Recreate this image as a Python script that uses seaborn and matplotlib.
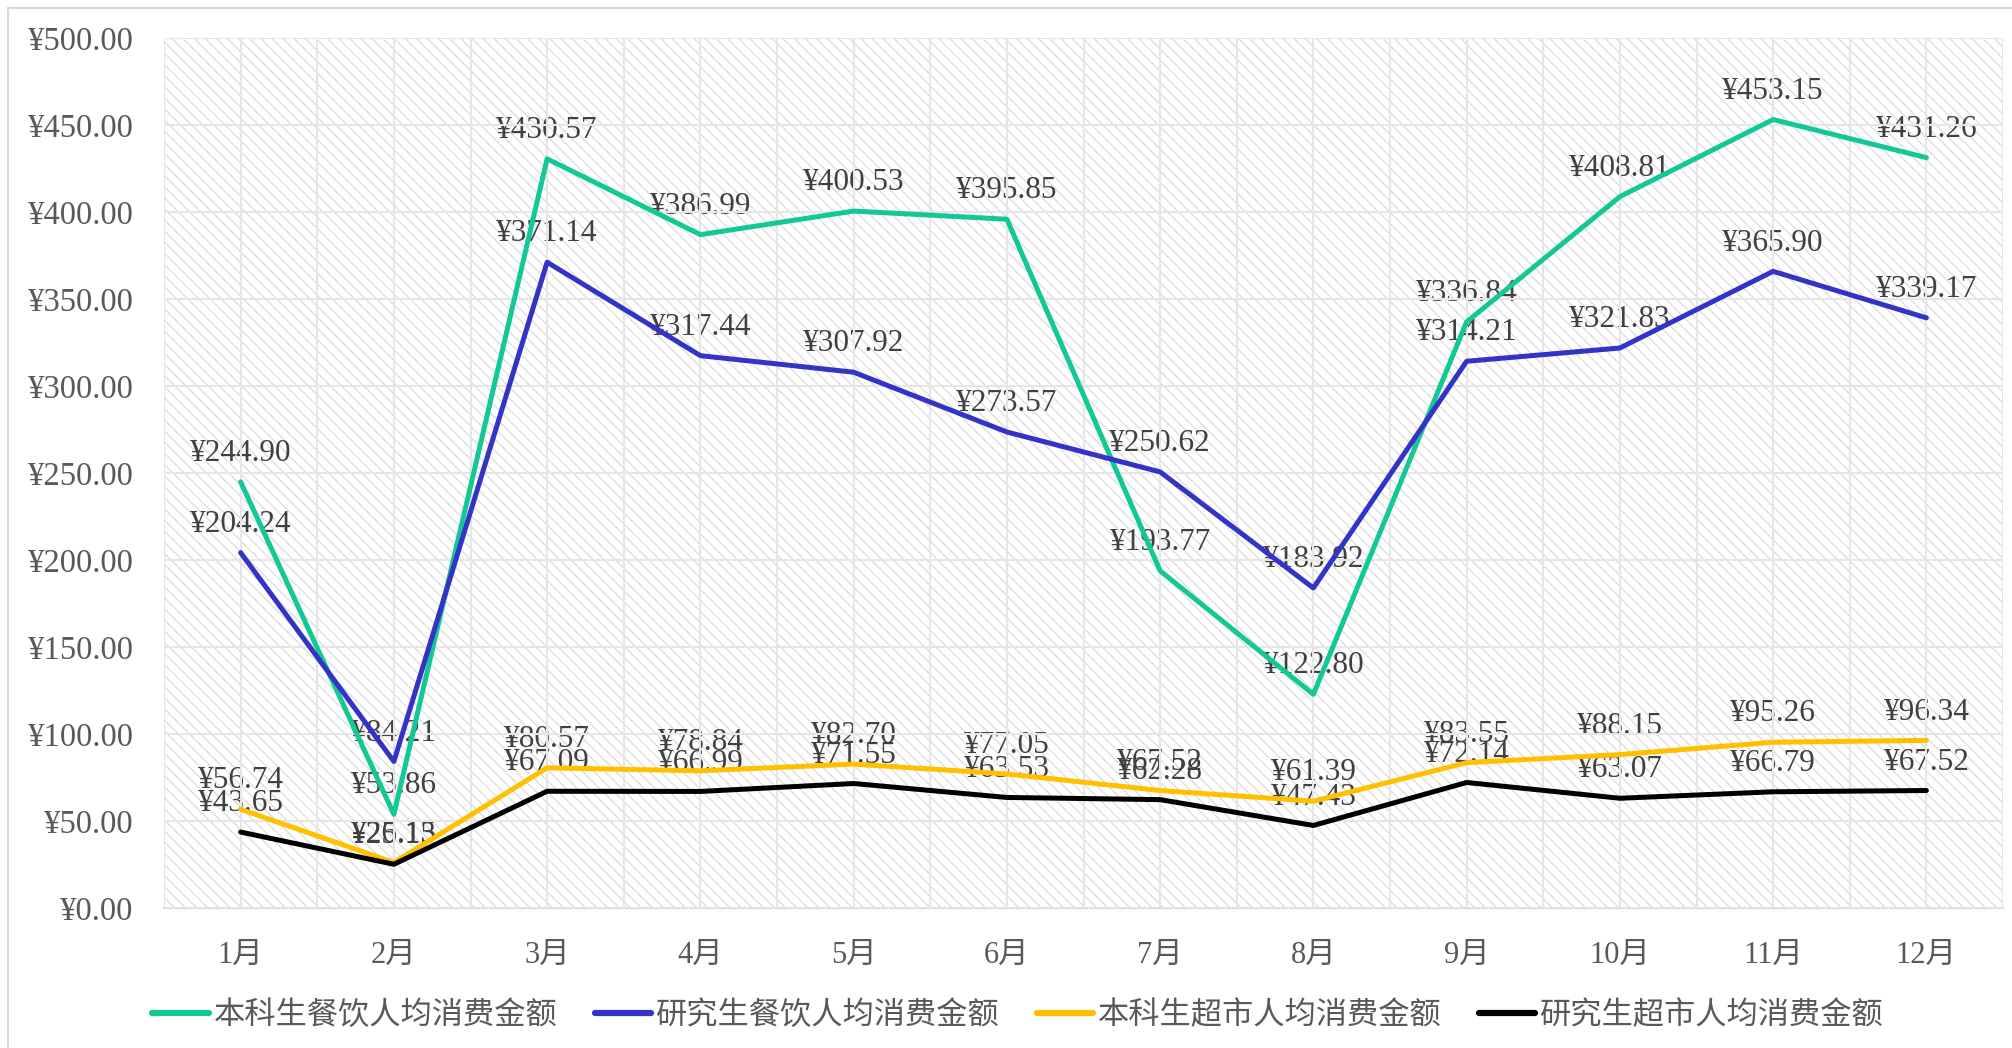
import numpy as np
import pandas as pd
import matplotlib
matplotlib.use("Agg")
import matplotlib.pyplot as plt
import seaborn as sns
from matplotlib.patches import Rectangle

# data
months = ["1月", "2月", "3月", "4月", "5月", "6月", "7月", "8月", "9月", "10月", "11月", "12月"]
ug_food = [244.90, 53.86, 430.57, 386.99, 400.53, 395.85, 193.77, 122.80, 336.84, 408.81, 453.15, 431.26]
pg_food = [204.24, 84.21, 371.14, 317.44, 307.92, 273.57, 250.62, 183.92, 314.21, 321.83, 365.90, 339.17]
ug_market = [56.74, 26.15, 80.57, 78.84, 82.70, 77.05, 67.52, 61.39, 83.55, 88.15, 95.26, 96.34]
pg_market = [43.65, 25.13, 67.09, 66.99, 71.55, 63.53, 62.28, 47.43, 72.14, 63.07, 66.79, 67.52]

series_names = ["本科生餐饮人均消费金额", "研究生餐饮人均消费金额", "本科生超市人均消费金额", "研究生超市人均消费金额"]
colors = ["#12C995", "#3333C8", "#FFC000", "#000000"]

df = pd.DataFrame({
    "month": months * 4,
    "value": ug_food + pg_food + ug_market + pg_market,
    "series": np.repeat(series_names, len(months)),
})
df["x"] = np.tile(np.arange(len(months)), 4)

sns.set_style("white")
plt.rcParams['font.family'] = ['Liberation Serif', 'Noto Sans CJK SC', 'DejaVu Sans']
plt.rcParams['hatch.linewidth'] = 0.9

fig = plt.figure(figsize=(20.12, 10.48), dpi=100)
ax = fig.add_axes([164 / 2012, 1 - 908 / 1048, (2003 - 164) / 2012, (908 - 38) / 1048])

# hatched background like the original plot area
ax.add_patch(Rectangle((0, 0), 1, 1, transform=ax.transAxes, facecolor="white",
                       edgecolor="#dcdcdc", hatch="\\\\\\", linewidth=0, zorder=0))

sns.lineplot(data=df, x="x", y="value", hue="series", palette=colors,
             linewidth=3.6, ax=ax, zorder=3, legend=True)

# data labels
for name, vals in zip(series_names, [ug_food, pg_food, ug_market, pg_market]):
    for i, v in enumerate(vals):
        ax.annotate(f"¥{v:.2f}", (i, v), xytext=(0, 15), textcoords="offset points",
                    ha="center", va="baseline", fontsize=22.5, color="#404040", zorder=2)

ax.set_xlim(-0.5, len(months) - 0.5)
ax.set_ylim(0, 500)
ax.set_xticks(np.arange(len(months)))
ax.set_xticklabels(months)
ax.set_yticks(np.arange(0, 501, 50))
ax.set_yticklabels([f"¥{t:.2f}" for t in np.arange(0, 501, 50)])
ax.set_xticks(np.arange(-0.5, len(months), 1.0), minor=True)
ax.tick_params(axis="x", which="major", length=0, pad=24, labelsize=22, labelcolor="#595959")
ax.tick_params(axis="x", which="minor", length=0)
ax.tick_params(axis="y", length=0, pad=22, labelsize=23.5, labelcolor="#595959")
ax.grid(True, which="both", axis="x", color="#e6e6e6", linewidth=1.5, zorder=1)
ax.grid(True, which="major", axis="y", color="#e6e6e6", linewidth=1.5, zorder=1)
ax.set_axisbelow(False)
ax.set_xlabel("")
ax.set_ylabel("")
for side in ["top", "right", "left"]:
    ax.spines[side].set_visible(False)
ax.spines["bottom"].set_color("#d9d9d9")
ax.spines["bottom"].set_linewidth(1.5)

handles, labels = ax.get_legend_handles_labels()
ax.legend(handles, labels, loc="center", bbox_to_anchor=(0.506, 1 - 1016 / 1048),
          bbox_transform=fig.transFigure, ncol=4, frameon=False, fontsize=22.5,
          handlelength=1.8, columnspacing=1.2, handletextpad=0.15, labelcolor="#595959")
for line in ax.get_legend().get_lines():
    line.set_linewidth(4.5)

# chart frame
fig.add_artist(Rectangle((8 / 2012, -0.1), 1.2, 1 - 8 / 1048 + 0.1, transform=fig.transFigure,
                         fill=False, edgecolor="#d9d9d9", linewidth=1.5))

fig.savefig("out.png", dpi=100)
